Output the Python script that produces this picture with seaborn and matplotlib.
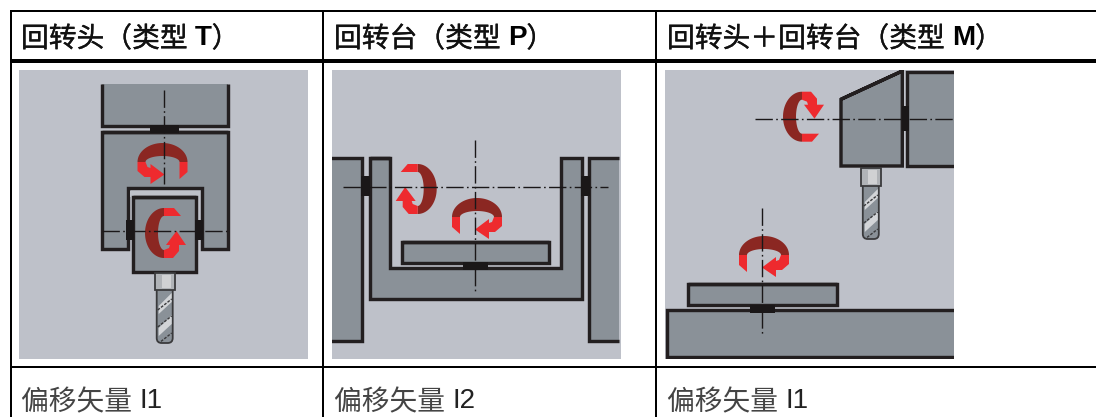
import numpy as np
import matplotlib.pyplot as plt
import matplotlib.patches as mpatches
import matplotlib.patheffects as pe
import seaborn as sns

# table text
headers = ['回转头（类型 ', '回转台（类型 ', '回转头＋回转台（类型 ']
type_codes = ['T', 'P', 'M']
vector_names = ['偏移矢量 ', '偏移矢量 ', '偏移矢量 ']
vector_ids = ['I1', 'I2', 'I1']
column_x = [21, 334, 667]

# colours
BG = '#BEC1C9'
METAL = '#8A9198'
INK = '#231F20'
DARK_RED = '#8B2722'
RED = '#EE2A2E'

sns.set_theme(style='white')
plt.rcParams['font.family'] = ['Noto Sans CJK SC', 'DejaVu Sans']

fig, ax = plt.subplots(figsize=(10.96, 4.17), dpi=100)
ax.set_position([0, 0, 1, 1])
ax.set_xlim(0, 1096)
ax.set_ylim(417, 0)
ax.axis('off')

PX = 0.72  # points per pixel


def panel(x0):
    r = mpatches.Rectangle((x0, 70), 289, 289, fc=BG, ec='none', zorder=1)
    ax.add_patch(r)
    return r


def shape(pts, clip, closed=True, lw=3.4, fc=METAL, z=3):
    # filled part first, so open outlines leave a side without a line
    pts = np.array(pts)
    p = ax.fill(pts[:, 0], pts[:, 1], fc=fc, ec='none', zorder=z)[0]
    p.set_clip_path(clip)
    if closed:
        pts = np.vstack([pts, pts[:2]])
    l = ax.plot(pts[:, 0], pts[:, 1], color=INK, lw=lw * PX, zorder=z + 0.1,
                solid_joinstyle='miter', solid_capstyle='butt')[0]
    l.set_clip_path(clip)


def block(x0, y0, x1, y1):
    ax.fill([x0, x1, x1, x0], [y0, y0, y1, y1], color='#1A1718', lw=0, zorder=4)


def axis_line(xs, ys):
    sns.lineplot(x=xs, y=ys, ax=ax, color='#1A1718', lw=1.0, sort=False, estimator=None,
                 linestyle=(0, (12.5, 2.4, 1.2, 2.4)), zorder=6, legend=False)


def spin(cx, cy, mx=1, my=1, swap=False):
    # one rotation arrow, drawn as the upright shape, then mirrored or turned
    t = np.radians(np.linspace(90, 270, 40))
    outer = np.c_[19 * np.cos(t), -25 * np.sin(t)]
    inner = np.c_[6 * np.cos(t[::-1]), -17 * np.sin(t[::-1])]
    dark = np.vstack([outer, inner])
    tail = np.array([(0, -25), (10, -25), (17, -17), (0, -17)], float)
    head = np.array([(0, 25), (9, 25), (15, 18), (15, 12), (22, 12), (12.5, -2), (2, 12),
                     (6, 12), (5, 15), (0, 17)], float)
    for pts, col in ((dark, DARK_RED), (tail, RED), (head, RED)):
        if swap:
            pts = pts[:, ::-1]
        ax.fill(cx + mx * pts[:, 0], cy + my * pts[:, 1], color=col, lw=0, zorder=5)


def tool(cx, y0, y1, y2):
    # shank
    ax.add_patch(mpatches.Rectangle((cx - 10, y0), 20, y1 - y0, fc='#B0B3B7', ec='#3A3A3C',
                                    lw=1.8 * PX, zorder=4))
    ax.add_patch(mpatches.Rectangle((cx - 3, y0 + 2), 9, y1 - y0 - 4, fc='#D0D1D3', ec='none', zorder=4.1))
    # flute with round tip
    body = mpatches.FancyBboxPatch((cx - 8, y1 - 6), 16, y2 - y1 + 5,
                                   boxstyle='round,pad=0,rounding_size=5', fc=METAL,
                                   ec='#3A3A3C', lw=1.8 * PX, zorder=3.5)
    ax.add_patch(body)
    for k in (0, 1):
        top = y1 + 3 + k * 22
        band = ax.fill([cx - 6, cx + 7, cx + 7, cx - 6], [top + 13, top, top + 9, top + 21],
                       color='#D3D5D8', lw=0, zorder=3.6)[0]
        band.set_clip_path(body)
    for k in range(3):
        top = y1 + 11 + k * 17
        l = ax.plot([cx - 7, cx + 7], [top + 9, top - 2], color='#3A3A3C', lw=1.0, ls=(0, (2, 1)), zorder=3.7)[0]
        l.set_clip_path(body)


# panel 1, head on a fork
clip = panel(19)
shape([(101.5, 84), (101.5, 126), (228, 126), (228, 84)], clip, closed=False)
block(150, 125, 179, 133)
shape([(101.5, 132), (228, 132), (228, 248.5), (201.5, 248.5), (201.5, 188), (127.5, 188),
       (127.5, 248.5), (101.5, 248.5)], clip)
ax.fill([130, 199, 199, 130], [191, 191, 197, 197], color=BG, lw=0, zorder=3.3)
shape([(133.3, 197), (195.6, 197), (195.6, 272), (133.3, 272)], clip, z=3.4)
block(126, 220, 134, 240)
block(195, 220, 203, 240)
axis_line([164, 164], [90, 184])
axis_line([102, 227], [231, 231])
spin(162.5, 162, mx=-1, swap=True)
spin(164, 233)
tool(164.7, 273, 290, 344)

# panel 2, table in a cradle
clip = panel(332)
shape([(331, 158), (361.7, 158), (361.7, 340.7), (331, 340.7)], clip, closed=False)
shape([(618.5, 158), (589, 158), (589, 340.7), (618.5, 340.7)], clip, closed=False)
shape([(369.7, 158), (390.3, 158), (390.3, 268.3), (560.7, 268.3), (560.7, 158), (581.7, 158),
       (581.7, 299), (369.7, 299)], clip)
shape([(401.7, 242.3), (549, 242.3), (549, 262.7), (401.7, 262.7)], clip)
block(463.3, 262, 488.3, 270)
block(361, 176, 370, 196)
block(581, 176, 589.5, 196)
axis_line([475.3, 475.3], [140, 293])
axis_line([343, 608], [187.3, 187.3])
spin(417.7, 189, mx=-1)
spin(477, 217, swap=True)

# panel 3, head and table split
clip = panel(665)
shape([(954, 71.7), (907.3, 71.7), (907.3, 166), (954, 166)], clip, closed=False)
shape([(841, 99.3), (902.3, 71), (902.3, 166), (841, 166)], clip)
block(902, 106, 908.5, 131)
axis_line([755, 954], [118.7, 118.7])
tool(870.8, 168, 186, 240)
shape([(954, 310), (666.7, 310), (666.7, 357.3), (954, 357.3)], clip, closed=False)
shape([(687.7, 284), (837, 284), (837, 305), (687.7, 305)], clip)
block(750, 305, 775, 313)
axis_line([762.3, 762.3], [208.3, 335])
spin(802, 116.7, my=-1)
spin(764, 255, swap=True)

# table rules
for y, w in ((10.5, 2), (60.5, 4), (367, 2)):
    ax.plot([9.5, 1096], [y, y], color='black', lw=w * PX, solid_capstyle='butt', zorder=7)
for x in (10.5, 323, 656):
    ax.plot([x, x], [10, 417], color='black', lw=2 * PX, solid_capstyle='butt', zorder=7)

# table text, CJK and latin parts side by side
fig.canvas.draw()
rend = fig.canvas.get_renderer()
thick = [pe.withStroke(linewidth=0.25, foreground='#111111')]
for x, head, code, name, vid in zip(column_x, headers, type_codes, vector_names, vector_ids):
    t = ax.text(x, 39, head, fontsize=20, va='center', color='#111111', zorder=8, path_effects=thick)
    w = t.get_window_extent(rend).width
    c = ax.text(x + w + 1, 38, code, fontsize=20, va='center', color='black', weight='bold',
                family='Liberation Sans', zorder=8)
    w2 = c.get_window_extent(rend).width
    ax.text(x + w + 1 + w2, 39, '）', fontsize=20, va='center', color='#111111', zorder=8, path_effects=thick)
    t = ax.text(x, 402, name, fontsize=20, va='center', color='#444444', weight='light', zorder=8)
    w = t.get_window_extent(rend).width
    ax.text(x + w + 1, 401, vid, fontsize=20, va='center', color='#222222',
            family='Liberation Sans', zorder=8)

fig.savefig('out.png', dpi=100)
